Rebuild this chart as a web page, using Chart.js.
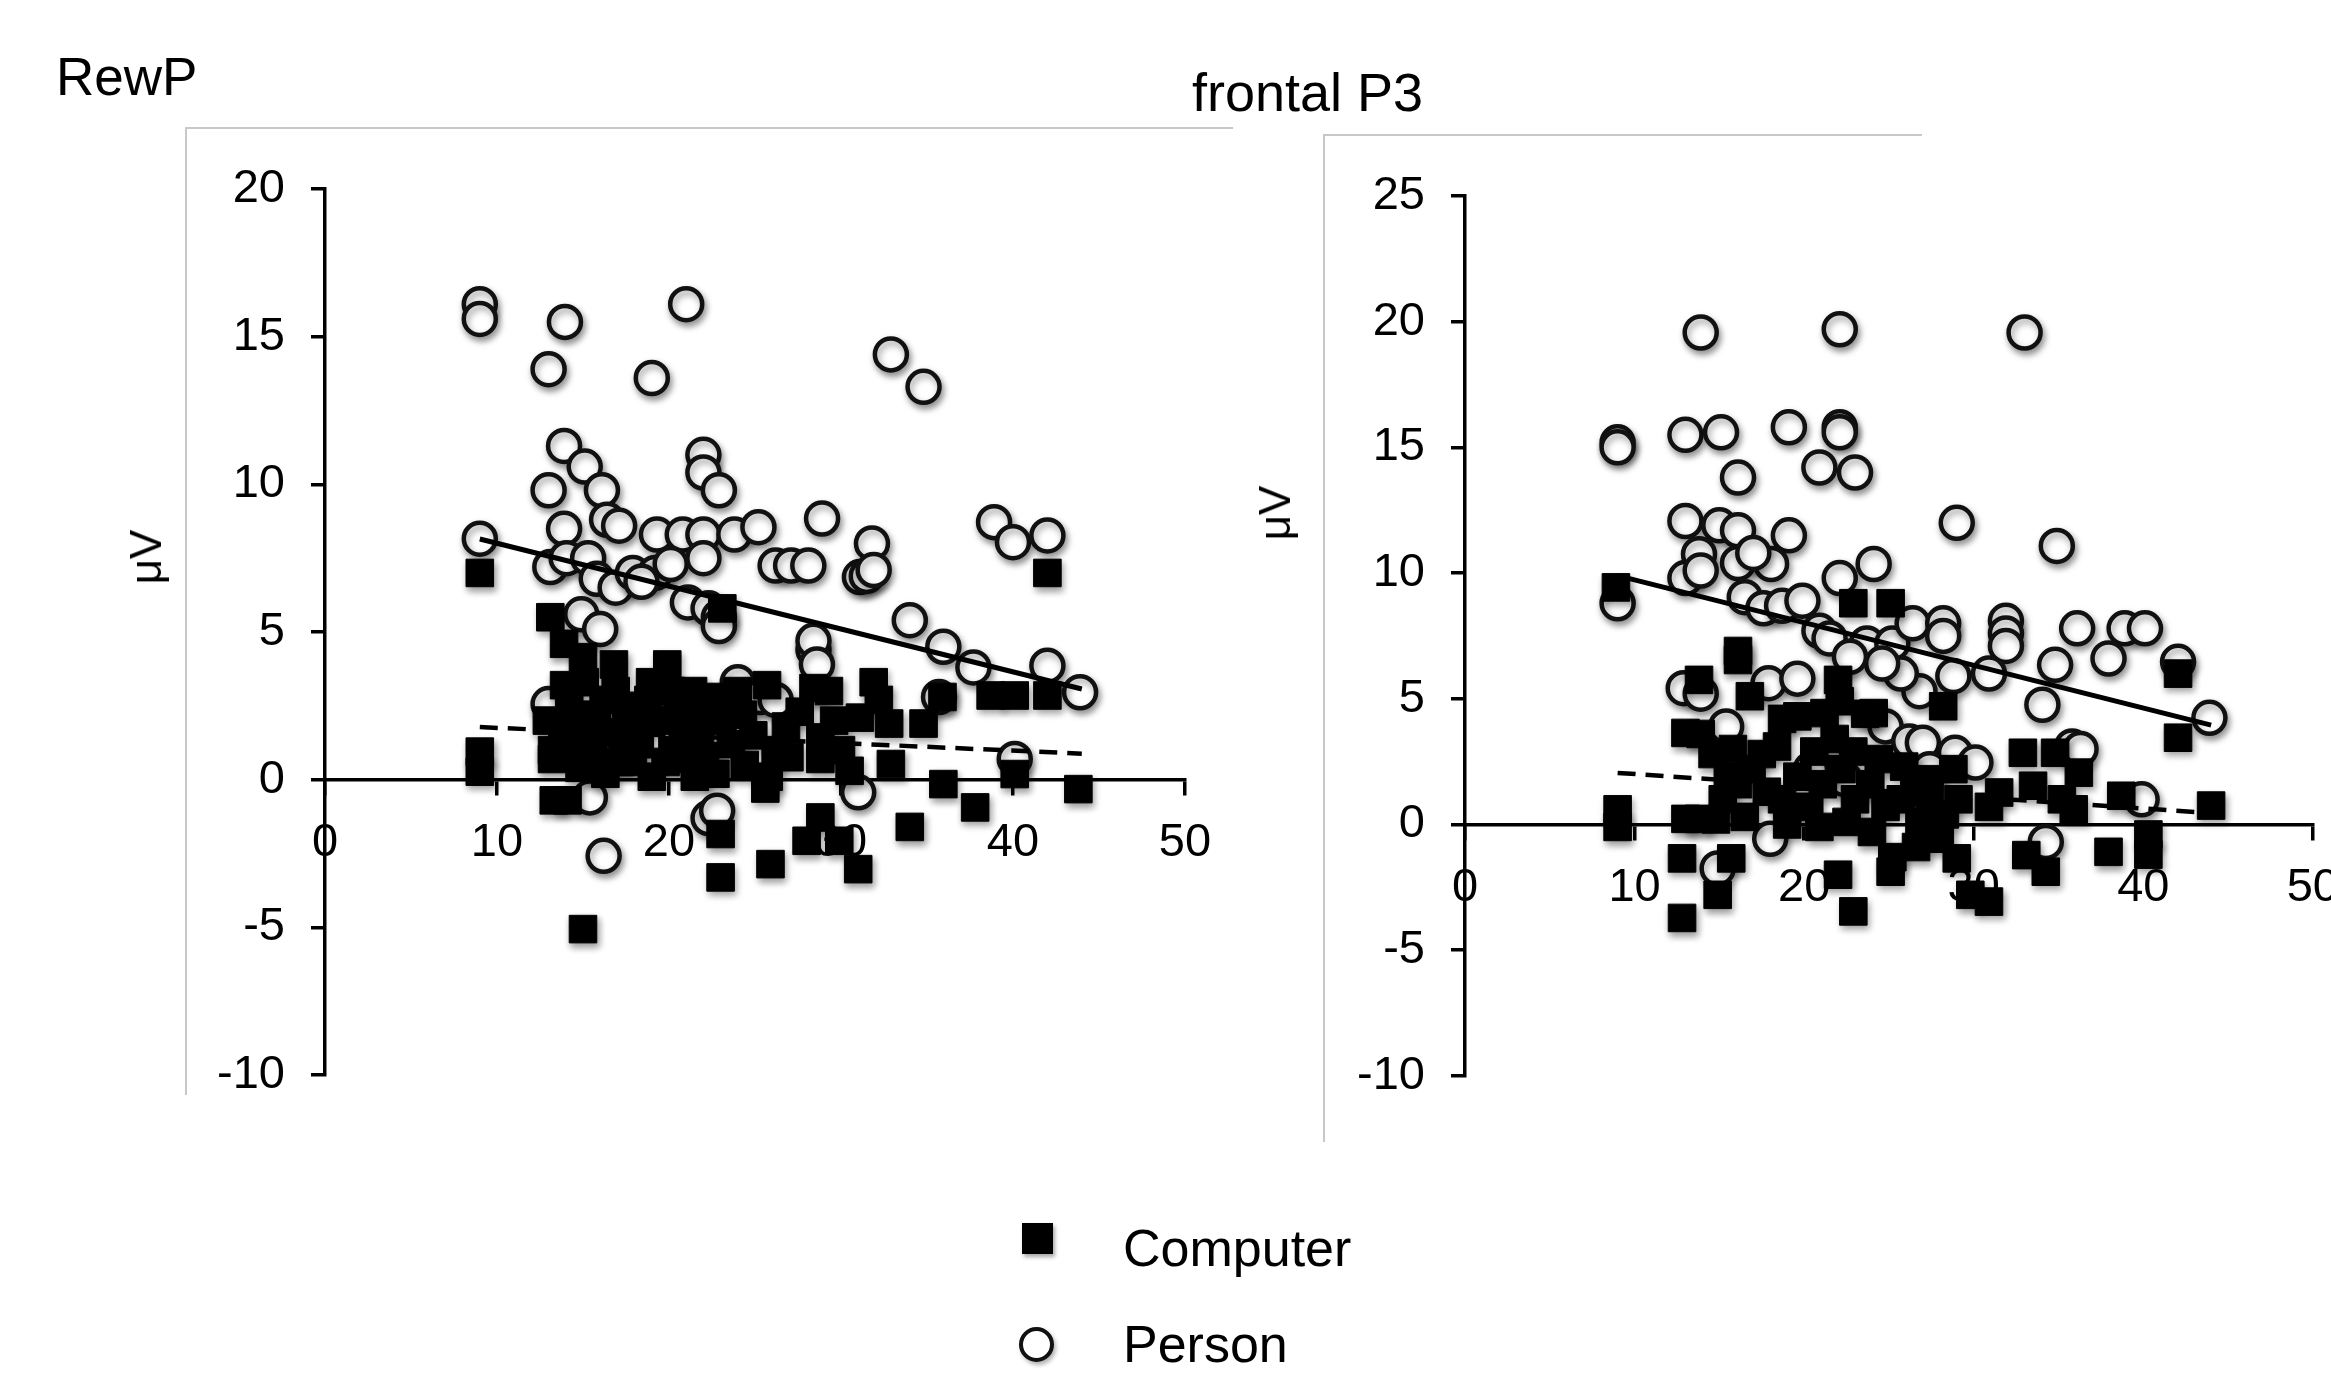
<!DOCTYPE html>
<html>
<head>
<meta charset="utf-8">
<script src="https://cdn.jsdelivr.net/npm/chart.js@4.4.1/dist/chart.umd.min.js"></script>
<style>
  html, body { margin: 0; padding: 0; background: #fff; }
  body { width: 2331px; height: 1375px; overflow: hidden; position: relative;
         font-family: "Liberation Sans", Arial, sans-serif; color: #000; }
  .marco { position: absolute; border-left: 2px solid #c8c8c8; border-top: 2px solid #c8c8c8; }
  .titulo { position: absolute; font-size: 54px; line-height: 1; white-space: nowrap; }
  .unidad { position: absolute; font-size: 44px; line-height: 1; white-space: nowrap;
            transform: translate(-50%, -50%) rotate(-90deg); }
  .leyenda { position: absolute; font-size: 52px; line-height: 1; white-space: nowrap; }
  .cuadro { position: absolute; width: 31px; height: 31px; background: #000;
            box-shadow: 2px 3px 4px rgba(0,0,0,0.35); }
  .circulo { position: absolute; width: 27px; height: 27px; border: 4px solid #111; border-radius: 50%;
             background: #fff; box-shadow: 2px 3px 4px rgba(0,0,0,0.3); }
  canvas { position: absolute; top: 0; }
</style>
</head>
<body>

<div class="marco" style="left:185px; top:127px; width:1046px; height:966px;"></div>
<div class="marco" style="left:1323px; top:134px; width:597px; height:1006px;"></div>

<div class="titulo" style="left:56px; top:50px; font-size:53px;">RewP</div>
<div class="titulo" style="left:1192px; top:65px;">frontal P3</div>

<canvas id="graficoRewp" width="1260" height="1130" style="left:0px; width:1260px; height:1130px;"></canvas>
<canvas id="graficoP3" width="1220" height="1130" style="left:1140px; width:1220px; height:1130px;"></canvas>

<div class="unidad" style="left:146px; top:557px;">μV</div>
<div class="unidad" style="left:1275px; top:513px;">μV</div>

<div class="cuadro" style="left:1022px; top:1223px;"></div>
<div class="leyenda" style="left:1123px; top:1222px;">Computer</div>
<div class="circulo" style="left:1019px; top:1327px;"></div>
<div class="leyenda" style="left:1123px; top:1318px;">Person</div>

<script>
// ticks de los ejes
const ticksX = [0, 10, 20, 30, 40, 50];
const ticksRewpY = [-10, -5, 0, 5, 10, 15, 20];
const ticksP3Y = [-10, -5, 0, 5, 10, 15, 20, 25];

// RewP - Computer (cuadros negros)
const rewpComputador = [
  [9, 7.0], [9, 0.95], [9, 0.27], [42, 7.0],
  [13.1, 5.5], [13.9, 4.6], [15.0, 4.15], [16.8, 3.9], [19.9, 3.9], [13.9, 3.2], [23.1, 5.8],
  [16.2, 2.7], [17.5, 2.5], [18.8, 2.7], [20.1, 3.0], [21.4, 3.0], [22.7, 2.8], [24.0, 3.0],
  [25.7, 3.2], [28.4, 3.1], [29.3, 3.0], [31.9, 3.3], [32.2, 2.7], [31.1, 2.1], [32.8, 1.9],
  [34.8, 1.9], [35.9, 2.8], [38.7, 2.85], [40.1, 2.85], [42.0, 2.85],
  [13.2, 1.0], [14.5, 1.2], [15.3, 1.5], [16.6, 1.6], [17.9, 1.7], [19.2, 2.0], [20.5, 2.1],
  [21.8, 1.7], [23.6, 1.2], [24.9, 1.5], [26.2, 1.0], [27.0, 0.76], [28.8, 0.7], [28.8, 1.43],
  [21.0, 0.7], [13.3, -0.7], [14.1, -0.7], [15.6, 1.0], [17.1, 0.6], [17.9, 0.6], [19.8, 0.6],
  [22.7, 0.2], [24.4, 0.5], [25.8, 0.1], [32.9, 0.53], [13.2, 0.7], [15.8, 2.2], [18.3, 1.2],
  [20.8, 1.3], [14.8, 0.4], [16.3, 0.2], [19.0, 0.1], [21.5, 0.1], [12.9, 2.0], [16.9, 3.0],
  [24.3, 2.2], [26.8, 1.8], [30.0, 1.0], [30.5, 0.3], [25.6, -0.3],
  [14.2, 2.4], [15.1, 3.3], [17.3, 1.1], [18.6, 2.2], [20.2, 1.0], [21.9, 2.5], [23.1, 2.0],
  [15.9, 0.5], [18.9, 3.3], [22.1, 0.8], [27.6, 2.3], [29.6, 2.0], [13.8, 1.6],
  [23.0, -1.84], [23.0, -3.31], [25.9, -2.86], [28.8, -1.28], [28.0, -2.07], [29.9, -2.07],
  [31.0, -3.03], [34.0, -1.6], [35.95, -0.15], [37.8, -0.94], [40.1, 0.19], [43.8, -0.32],
  [15.0, -5.06]
];

// RewP - Person (circulos blancos)
const rewpPersona = [
  [9, 16.1], [9, 15.6], [13.95, 15.5], [21.0, 16.1], [13.0, 13.9], [19.0, 13.6], [32.9, 14.4], [34.8, 13.3],
  [13.9, 11.3], [15.1, 10.6], [13.0, 9.8], [16.1, 9.8], [22.0, 11.0], [22.0, 10.4], [22.9, 9.8],
  [9.0, 8.16], [13.9, 8.5], [16.4, 8.8], [17.1, 8.6], [19.3, 8.3], [20.8, 8.3], [22.0, 8.3],
  [23.8, 8.3], [25.2, 8.55], [28.9, 8.84], [31.8, 8.0], [38.9, 8.72], [40.0, 8.04], [42.0, 8.27],
  [26.2, 7.25], [27.1, 7.25], [28.1, 7.25], [31.1, 6.86], [31.5, 6.9], [31.9, 7.1],
  [13.1, 7.2], [14.05, 7.5], [15.3, 7.5], [15.8, 6.8], [16.9, 6.5], [17.9, 7.0], [19.2, 7.0],
  [20.1, 7.3], [21.1, 6.0], [22.3, 5.8], [22.9, 5.5], [22.9, 5.2], [14.9, 5.6], [16.0, 5.1],
  [22.0, 7.5], [18.4, 6.7],
  [28.4, 4.4], [28.4, 4.7], [28.6, 3.9], [34.0, 5.4], [35.95, 4.5], [37.7, 3.8], [42.0, 3.86], [43.9, 2.96],
  [13.0, 2.56], [24.0, 3.3], [25.3, 2.8], [26.2, 2.7], [35.7, 2.8],
  [15.4, -0.6], [16.2, -2.58], [22.3, -1.3], [22.8, -1.05], [31.0, -0.43], [40.1, 0.7]
];

// frontal P3 - Computer
const p3Computador = [
  [8.9, 9.43], [22.9, 8.8], [25.1, 8.8],
  [13.8, 5.75], [16.1, 6.9], [16.1, 6.54], [16.8, 5.1], [22.0, 5.75], [22.1, 4.9], [21.2, 4.43],
  [19.6, 4.3], [24.1, 4.43], [18.7, 4.2], [23.6, 4.4], [28.2, 4.7], [42.05, 6.0], [42.05, 3.45],
  [13.0, 3.64], [13.9, 3.6],
  [9.0, 0.6], [9.0, -0.1], [13.0, 0.22], [13.8, 0.22],
  [15.2, 1.0], [16.1, 1.6], [16.9, 2.2], [17.8, 1.3], [18.7, 1.0], [19.6, 1.9], [20.3, 0.7],
  [21.1, 1.6], [22.2, 2.2], [23.0, 1.0], [23.9, 1.6], [24.8, 0.7], [25.7, 1.0], [26.5, 1.3],
  [27.4, 0.7], [28.3, 0.4], [29.1, 1.0], [30.9, 0.7], [31.5, 1.27], [33.5, 1.54], [35.2, 1.0],
  [35.9, 0.6], [32.9, 2.85], [34.8, 2.85], [36.2, 2.06], [28.8, 2.2], [27.4, 1.8], [14.6, 2.8],
  [15.8, 3.0], [17.5, 2.8], [18.4, 3.1], [20.6, 2.9], [22.9, 2.9], [24.4, 2.6], [25.9, 2.3],
  [14.8, 0.2], [16.5, 0.3], [19.0, 0.0], [20.9, -0.1], [22.5, 0.1], [24.0, -0.3], [26.8, 0.09],
  [15.5, 1.9], [21.8, 3.4], [38.7, 1.14], [44.0, 0.75],
  [12.8, -1.35], [12.8, -3.72], [14.9, -2.8], [15.7, -1.35], [22.0, -2.0], [22.9, -3.46],
  [25.1, -1.88], [25.2, -1.3], [28.0, -0.57], [29.0, -1.35], [26.6, -0.9], [30.9, -3.07],
  [29.8, -2.8], [33.1, -1.22], [34.25, -1.88], [37.95, -1.09], [40.3, -0.4], [40.3, -1.2]
];

// frontal P3 - Person
const p3Persona = [
  [13.9, 19.57], [22.1, 19.7], [33.0, 19.57],
  [9.0, 15.2], [9.0, 15.0], [13.0, 15.5], [15.1, 15.6], [19.1, 15.8], [22.1, 15.8], [22.1, 15.6],
  [16.1, 13.8], [20.9, 14.2], [23.0, 14.0],
  [13.0, 12.07], [15.0, 11.9], [16.1, 11.7], [19.1, 11.5], [13.8, 10.75], [16.1, 10.4], [18.05, 10.36],
  [17.0, 10.8], [13.0, 9.8], [13.9, 10.1], [22.1, 9.8], [24.1, 10.36], [29.0, 12.0], [34.9, 11.08],
  [9.0, 8.8], [16.5, 9.04], [17.6, 8.6], [18.7, 8.7], [19.9, 8.9], [20.9, 7.7], [21.5, 7.4],
  [23.7, 7.2], [25.2, 7.2], [26.4, 8.0], [28.2, 8.0], [28.2, 7.5], [31.9, 8.1], [31.9, 7.6],
  [31.9, 7.1], [36.1, 7.8], [38.9, 7.8], [40.1, 7.8], [37.95, 6.6], [34.8, 6.35], [42.05, 6.47],
  [34.05, 4.76], [43.9, 4.24],
  [28.8, 5.9], [26.8, 5.3], [25.7, 6.0], [24.6, 6.4], [30.9, 6.0], [22.7, 6.67],
  [12.9, 5.42], [13.9, 5.2], [17.9, 5.62], [19.6, 5.8], [15.4, 3.9], [24.8, 3.9], [26.2, 3.3],
  [27.0, 3.25], [28.9, 2.85], [30.1, 2.46], [35.8, 3.1], [36.3, 3.0], [21.3, 2.6], [20.4, 2.2],
  [22.4, 1.8], [23.6, 0.7], [27.4, 2.2],
  [39.9, 1.0], [34.25, -0.7], [18.0, -0.57], [14.9, -1.75]
];

// lineas de tendencia (inicio y fin)
const tendRewpPersona = [[9, 8.15], [44, 3.07]];
const tendRewpComputador = [[9, 1.78], [44, 0.88]];
const tendP3Persona = [[9, 9.9], [44, 3.95]];
const tendP3Computador = [[9, 2.05], [44, 0.45]];

const puntos = arr => arr.map(([x, y]) => ({ x, y }));

// sombra suave bajo los marcadores, como en Excel
const sombra = {
  id: 'sombra',
  beforeDatasetDraw(chart, args) {
    if (chart.data.datasets[args.index].showLine) return;
    const ctx = chart.ctx;
    ctx.save();
    ctx.shadowColor = 'rgba(0,0,0,0.4)';
    ctx.shadowBlur = 7;
    ctx.shadowOffsetX = 2;
    ctx.shadowOffsetY = 4;
  },
  afterDatasetDraw(chart, args) {
    if (chart.data.datasets[args.index].showLine) return;
    chart.ctx.restore();
  }
};

Chart.defaults.font.family = '"Liberation Sans", Arial, sans-serif';
Chart.defaults.color = '#000';

function crearGrafico(id, computador, persona, tendCompu, tendPersona, ticksY, padding) {
  const ctx = document.getElementById(id);
  return new Chart(ctx, {
    type: 'scatter',
    data: {
      datasets: [
        {
          label: 'tendencia Person',
          data: puntos(tendPersona),
          showLine: true,
          borderColor: '#000',
          borderWidth: 5,
          pointRadius: 0,
          order: 0
        },
        {
          label: 'tendencia Computer',
          data: puntos(tendCompu),
          showLine: true,
          borderColor: '#000',
          borderWidth: 4.5,
          borderDash: [18, 10],
          pointRadius: 0,
          order: 0
        },
        {
          label: 'Computer',
          data: puntos(computador),
          pointStyle: 'rect',
          pointRadius: 19.5,
          backgroundColor: '#000',
          borderColor: '#000',
          borderWidth: 1,
          order: 1
        },
        {
          label: 'Person',
          data: puntos(persona),
          pointStyle: 'circle',
          pointRadius: 16,
          backgroundColor: '#fff',
          borderColor: '#111',
          borderWidth: 4.5,
          order: 2
        }
      ]
    },
    options: {
      responsive: false,
      animation: false,
      events: [],
      layout: { padding },
      plugins: {
        legend: { display: false },
        tooltip: { enabled: false }
      },
      scales: {
        x: {
          type: 'linear',
          position: { y: 0 },
          min: ticksX[0],
          max: ticksX[ticksX.length - 1],
          afterBuildTicks: s => { s.ticks = ticksX.map(v => ({ value: v })); },
          grid: { display: true, drawOnChartArea: false, drawTicks: true, tickLength: 14, color: '#000', lineWidth: 3.5 },
          border: { display: true, color: '#000', width: 3.5 },
          ticks: { font: { size: 47 }, padding: 21, maxRotation: 0, color: '#000' }
        },
        y: {
          type: 'linear',
          position: 'left',
          min: ticksY[0],
          max: ticksY[ticksY.length - 1],
          afterBuildTicks: s => { s.ticks = ticksY.map(v => ({ value: v })); },
          afterFit: s => { s.width = 325; },
          grid: { display: true, drawOnChartArea: false, drawTicks: true, tickLength: 14, color: '#000', lineWidth: 3.5 },
          border: { display: true, color: '#000', width: 3.5 },
          ticks: { font: { size: 47 }, padding: 26, color: '#000' }
        }
      }
    },
    plugins: [sombra]
  });
}

crearGrafico('graficoRewp', rewpComputador, rewpPersona, tendRewpComputador, tendRewpPersona,
  ticksRewpY, { left: 0, top: 189, right: 75, bottom: 55 });
crearGrafico('graficoP3', p3Computador, p3Persona, tendP3Computador, tendP3Persona,
  ticksP3Y, { left: 0, top: 196, right: 41, bottom: 47 });
</script>
</body>
</html>
